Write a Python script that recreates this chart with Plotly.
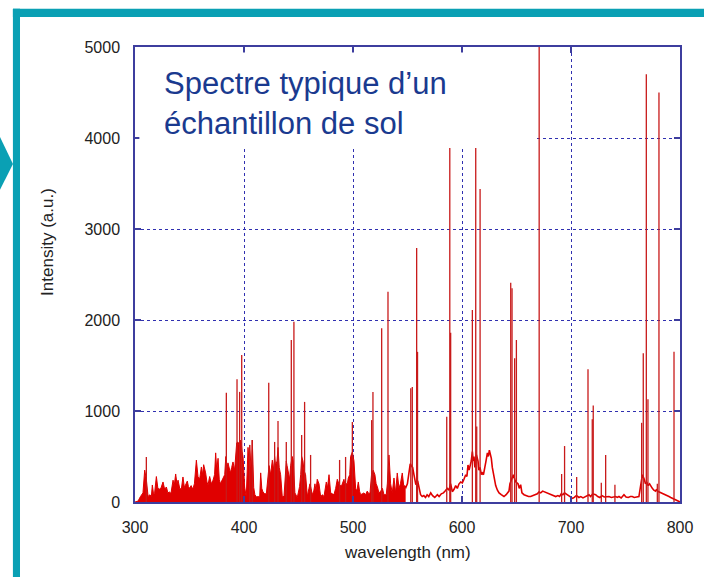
import plotly.graph_objects as go

# emission lines (nm, intensity a.u.)
peak_nm = [310.4, 383.8, 393.6, 396.0, 397.9, 405.2, 407.6, 422.7, 428.1, 431.2, 438.8,
           443.4, 445.8, 452.9, 455.6, 461.1, 487.7, 493.2, 499.4, 517.1, 518.3,
           526.3, 532.1, 553.0, 554.4, 558.4, 559.2, 586.0, 588.8, 589.6, 609.5,
           612.6, 613.5, 616.6, 644.7, 645.9, 648.3, 649.9, 670.8, 691.4, 694.1,
           705.2, 715.6, 719.5, 720.4, 727.8, 731.8, 740.3, 764.8, 766.3, 769.1,
           770.6, 779.2, 780.7, 794.5]
peak_int = [495, 1200, 1350, 1210, 1615, 627, 680, 1310, 660, 890, 660,
            1780, 1980, 737, 1100, 517, 462, 495, 880, 900, 1210,
            1910, 2310, 1250, 1265, 2790, 1650, 937, 4500, 1860, 2110,
            4500, 830, 3440, 2410, 2350, 1580, 1780, 5300, 308, 615,
            275, 1460, 910, 1060, 212, 517, 190, 870, 1635, 4700,
            1130, 200, 4500, 1650]

# dense continuum 300-548 nm (filled)
dense_nm = [300, 302.8, 305, 307.3, 308.9, 310.4, 312, 313.5, 315, 315.9, 317, 318, 319.6, 321,
            322.5, 324, 325.7, 327.2, 328.8, 330.2, 331.5, 333, 334.9, 336, 337.3, 338.5, 339.5,
            341, 342.5, 344, 345.3, 346.5, 348, 349, 350, 351.5, 353, 354.5, 356.3, 357.8, 359.3,
            360.9, 362, 363, 364.8, 366, 367, 368.5, 370, 371.6, 373, 374, 375, 376.2, 377.3,
            378.3, 380.1, 381.2, 382.3, 383.3, 384.5, 385.3, 386.5, 387.5, 388.7, 389.9, 391.4,
            392.5, 393.3, 394.5, 395.5, 396.6, 397.5, 398.3, 399.1, 400.6, 402.1, 403.7, 404.5,
            405.2, 406.7, 407.6, 408.9, 410, 411.5, 413, 414.4, 415.3, 416.3, 417.4, 419, 420.5,
            421.5, 423, 424.4, 425.2, 426, 427, 428.1, 429, 430.3, 431.2, 432.3, 433.6, 435.1,
            436.7, 437.8, 438.8, 439.5, 440.3, 441.9, 442.8, 444.3, 445.2, 446.7, 448.9, 451,
            452, 452.9, 454.1, 455, 456.5, 458.1, 459.6, 460.5, 461.5, 462.7, 464, 465.1, 466,
            467.2, 468.8, 470.3, 472, 473.4, 475.5, 476.5, 478, 479.5, 481, 482.5, 484.1, 485.6,
            487, 488.5, 489.6, 491.7, 492.5, 494.8, 495.7, 497, 497.8, 499.4, 500.9, 502.4,
            503.5, 504.9, 506, 507, 508.5, 510.1, 511.5, 513.1, 514.5, 515.6, 517, 518.5, 520.1,
            521.2, 522.3, 523.8, 525.5, 527, 528.4, 530.5, 531.5, 533, 534.5, 536, 537.6, 539.1,
            540.6, 541.5, 542.2, 543.5, 545.2, 546.5, 548.3]
dense_int = [0, 10, 60, 100, 350, 250, 60, 80, 60, 187, 90, 100, 280, 150,
             140, 160, 220, 140, 165, 100, 110, 95, 240, 180, 308, 200, 240,
             150, 140, 275, 160, 200, 230, 170, 150, 180, 140, 200, 460, 280, 250,
             385, 300, 410, 320, 220, 187, 280, 200, 240, 300, 540, 350, 480, 250,
             200, 240, 280, 300, 500, 380, 430, 350, 320, 380, 440, 350,
             500, 650, 660, 620, 680, 650, 550, 500, 165, 55, 600, 450,
             627, 320, 680, 160, 80, 55, 60, 55, 320, 150, 110, 90, 90,
             200, 400, 300, 385, 460, 350, 500, 400, 450, 600, 380, 300, 60,
             60, 250, 450, 400, 350, 250, 400, 500, 450, 100, 50, 170,
             300, 500, 450, 350, 300, 60, 150, 200, 150, 80, 120, 200, 120,
             250, 200, 60, 80, 60, 220, 150, 300, 100, 90, 80, 150, 250,
             200, 180, 180, 250, 200, 200, 264, 300, 500, 550, 450, 150,
             120, 220, 120, 80, 90, 100, 80, 120, 90, 100, 300, 350, 300,
             200, 170, 100, 120, 150, 80, 80, 200, 517, 200, 100, 264, 100,
             319, 200, 150, 200, 319, 180, 150]

# molecular bands / baseline 547-800 nm (line only)
band_nm = [546.8, 548.5, 549.9, 551.4, 552.5, 553.5, 554.7, 555.4, 556.6, 557.5, 559.5, 560.6,
           562, 563.5, 565, 566.5, 568, 569.5, 571.3, 573, 575, 577.4, 579, 581, 583, 584.5,
           586.5, 588.1, 589.5, 590.5, 591.1, 592.7, 594.2, 595.7, 597.3, 598.8, 600.3, 601.8,
           603.4, 604.5, 605.5, 606.5, 607.3, 608.5, 609.5, 610.3, 611, 611.8, 613.2, 614.7,
           615.5, 616.5, 617.8, 618.7, 619.7, 620.8, 622, 623.3, 624.2, 625.1, 626, 626.9,
           627.8, 628.8, 629.8, 630.9, 632.5, 634, 636, 638.5, 640.5, 642, 643.1, 644, 645.3,
           647.1, 648.3, 649.5, 651.4, 652.5, 653.8, 655, 656.9, 659, 661, 663, 665, 667,
           669.1, 670.6, 672.2, 674, 676, 678, 680, 682, 684, 686, 688, 689.5, 691, 692.5,
           694, 696.6, 698, 699.7, 701.5, 703, 705, 707.3, 709, 711, 713, 715, 716.5, 718,
           720, 722.6, 724.5, 726.5, 728.5, 730.5, 732.5, 734.8, 737, 739, 741, 742.5, 744,
           746, 748.6, 750.5, 752.5, 754.5, 756.2, 758, 760, 762.3, 763.5, 764.5, 765.5,
           767.2, 768.3, 769.5, 770.8, 772.1, 773.3, 774.6, 776, 777.6, 778.5, 779.5, 781,
           782.5, 783.8, 785.5, 787.5, 789.9, 791.5, 793, 794.5, 796, 798, 800]
band_int = [180, 160, 200, 350, 420, 400, 380, 333, 250, 200, 220, 150,
            80, 60, 70, 50, 80, 60, 100, 70, 50, 80, 60, 90, 100, 120,
            150, 130, 200, 150, 113, 140, 180, 150, 200, 220, 210, 250,
            300, 280, 407, 350, 380, 450, 553, 450, 500, 380, 520, 450,
            350, 380, 300, 318, 300, 400, 450, 540, 500, 570, 520, 480,
            380, 300, 220, 180, 130, 100, 80, 60, 80, 100, 120, 200, 250,
            300, 250, 220, 200, 150, 190, 100, 80, 70, 60, 60, 70, 80,
            90, 110, 100, 120, 110, 100, 90, 80, 70, 60, 70, 60, 90, 80,
            100, 80, 60, 50, 40, 50, 70, 50, 60, 45, 55, 70, 80, 60,
            90, 80, 60, 50, 70, 55, 60, 60, 50, 55, 60, 50, 60,
            45, 80, 55, 50, 60, 60, 50, 55, 60, 150, 250, 300,
            250, 200, 220, 180, 200, 170, 150, 130, 120, 140, 120, 110,
            100, 100, 80, 70, 60, 50, 40, 30, 20, 10, 0]

x_ticks = [300, 400, 500, 600, 700, 800]
y_ticks = [0, 1000, 2000, 3000, 4000, 5000]

RED = "#e00000"
AXIS = "#3d3d9e"
GRID = "#3030b0"
TEAL = "#0aa0b4"
FONT = "Liberation Sans, Arial"

line_x, line_y = [], []
for w, h in zip(peak_nm, peak_int):
    line_x += [w, w, None]
    line_y += [0, h, None]

fig = go.Figure()
fig.add_trace(go.Scatter(x=dense_nm, y=dense_int, mode="lines", fill="tozeroy",
                         fillcolor=RED, line=dict(color=RED, width=1)))
fig.add_trace(go.Scatter(x=band_nm, y=band_int, mode="lines",
                         line=dict(color=RED, width=1.6)))
fig.add_trace(go.Scatter(x=line_x, y=line_y, mode="lines",
                         line=dict(color="#c81a1a", width=1.3)))

axis_common = dict(
    showline=True, linecolor=AXIS, linewidth=1.5, mirror="ticks",
    ticks="inside", ticklen=6, tickcolor=AXIS, tickwidth=1.5,
    showgrid=True, gridcolor=GRID, gridwidth=1, griddash="dot",
    zeroline=False,
    tickfont=dict(family=FONT, size=16, color="#222"),
)
fig.update_xaxes(range=[300, 800], tickvals=x_ticks, ticklabelstandoff=10, **axis_common)
fig.update_yaxes(range=[0, 5000], tickvals=y_ticks, ticklabelstandoff=10, **axis_common)

# teal slide frame and arrow
fig.add_shape(type="rect", xref="paper", yref="paper", x0=-0.224, x1=1.06, y0=1.066, y1=1.084,
              fillcolor=TEAL, line_width=0, layer="above")
fig.add_shape(type="rect", xref="paper", yref="paper", x0=-0.224, x1=-0.211, y0=-0.18, y1=1.084,
              fillcolor=TEAL, line_width=0, layer="above")
fig.add_shape(type="path", xref="paper", yref="paper",
              path="M -0.2477 0.802 L -0.2239 0.743 L -0.2477 0.686 Z",
              fillcolor=TEAL, line_width=0, layer="above")

# white box behind the caption
fig.add_shape(type="rect", xref="x", yref="y", x0=304, x1=668.5, y0=3890, y1=4940,
              fillcolor="white", line_width=0, layer="above")
fig.add_annotation(xref="paper", yref="paper", x=0.05, y=0.963, xanchor="left", yanchor="top",
                   align="left", showarrow=False,
                   text="Spectre typique d’un<br>échantillon de sol",
                   font=dict(family=FONT, size=31, color="#1a3a8f"))

fig.add_annotation(xref="paper", yref="paper", x=-0.162, y=0.571, xanchor="center",
                   textangle=-90, showarrow=False, text="Intensity (a.u.)",
                   font=dict(family=FONT, size=17, color="#222"))
fig.add_annotation(xref="paper", yref="paper", x=0.5, y=-0.11, yanchor="middle",
                   showarrow=False, text="wavelength (nm)",
                   font=dict(family=FONT, size=17, color="#222"))

fig.update_layout(
    width=704, height=577,
    margin=dict(l=135, r=24, t=47, b=75),
    paper_bgcolor="white", plot_bgcolor="white",
    showlegend=False,
)

fig.write_html("out.html", config={"displayModeBar": False},
               post_script="document.body.style.margin='0';")
